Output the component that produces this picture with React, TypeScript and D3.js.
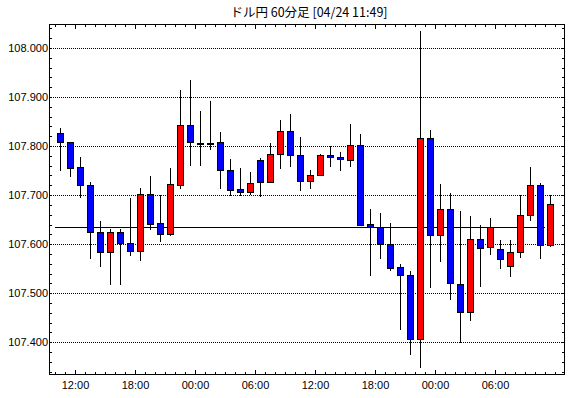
import { useEffect, useRef } from "react";
import * as d3 from "d3";

// 60-minute candles, 04/23 10:00 -> 04/24 11:00
const START = new Date(2019, 3, 23, 10, 0);
const OPEN = [
  107.827, 107.808, 107.757, 107.72, 107.624, 107.584, 107.624, 107.602, 107.585, 107.702,
  107.643, 107.62, 107.72, 107.843, 107.807, 107.807, 107.808, 107.752, 107.712, 107.706,
  107.771, 107.727, 107.784, 107.831, 107.782, 107.729, 107.741, 107.782, 107.778, 107.771,
  107.802, 107.641, 107.635, 107.6, 107.553, 107.537, 107.406, 107.816, 107.618, 107.671,
  107.518, 107.461, 107.61, 107.594, 107.59, 107.555, 107.584, 107.659, 107.72, 107.598,
];
const HIGH = [
  107.837, 107.809, 107.778, 107.727, 107.648, 107.631, 107.631, 107.694, 107.715, 107.739,
  107.701, 107.756, 107.915, 107.935, 107.872, 107.892, 107.829, 107.774, 107.756, 107.748,
  107.776, 107.807, 107.854, 107.866, 107.819, 107.752, 107.784, 107.8, 107.788, 107.846,
  107.825, 107.672, 107.664, 107.643, 107.56, 107.545, 108.035, 107.833, 107.723, 107.705,
  107.668, 107.658, 107.639, 107.654, 107.609, 107.609, 107.7, 107.758, 107.724, 107.7,
];
const LOW = [
  107.75, 107.737, 107.695, 107.569, 107.554, 107.516, 107.516, 107.575, 107.566, 107.629,
  107.605, 107.616, 107.713, 107.76, 107.76, 107.791, 107.713, 107.699, 107.699, 107.701,
  107.697, 107.727, 107.754, 107.758, 107.709, 107.713, 107.738, 107.758, 107.75, 107.758,
  107.636, 107.534, 107.569, 107.546, 107.424, 107.373, 107.347, 107.511, 107.564, 107.486,
  107.398, 107.443, 107.513, 107.577, 107.549, 107.532, 107.571, 107.648, 107.569, 107.595,
];
const CLOSE = [
  107.808, 107.755, 107.72, 107.624, 107.584, 107.624, 107.602, 107.585, 107.702, 107.642,
  107.62, 107.722, 107.843, 107.808, 107.807, 107.807, 107.751, 107.711, 107.706, 107.724,
  107.727, 107.784, 107.831, 107.781, 107.729, 107.741, 107.782, 107.778, 107.773, 107.802,
  107.639, 107.635, 107.6, 107.551, 107.536, 107.406, 107.816, 107.618, 107.671, 107.52,
  107.461, 107.61, 107.592, 107.635, 107.569, 107.584, 107.659, 107.72, 107.598, 107.682,
];
const REF_PRICE = 107.635;
const Y_TICKS = [107.4, 107.5, 107.6, 107.7, 107.8, 107.9, 108.0];
const TITLE = "ドル円 60分足 [04/24 11:49]";

const W = 570;
const H = 398;
const HOUR = 3600 * 1000;

export default function App() {
  const svgRef = useRef<SVGSVGElement>(null);

  useEffect(() => {
    document.body.style.margin = "0";
    if (!svgRef.current) return;
    const svg = d3.select(svgRef.current);
    svg.selectAll("*").remove();

    const left = 49, right = 565, top = 24, bottom = 375;
    const px = (v: number) => Math.round(v) + 0.5;

    const x = d3
      .scaleTime()
      .domain([new Date(+START - 0.6 * HOUR), new Date(+START + 51 * HOUR)])
      .range([left, right]);
    const y = d3.scaleLinear().domain([107.333, 108.049]).range([bottom, top]);

    svg.append("rect").attr("width", W).attr("height", H).attr("fill", "#fff");

    // title
    svg
      .append("text")
      .attr("x", (left + right) / 2 + 2)
      .attr("y", 17)
      .attr("text-anchor", "middle")
      .attr("font-family", "'Noto Sans CJK JP', sans-serif")
      .attr("font-size", "12.5px")
      .attr("fill", "#000")
      .attr("xml:space", "preserve")
      .style("white-space", "pre")
      .text(TITLE);

    const g = svg.append("g").attr("shape-rendering", "crispEdges");

    // dotted grid
    Y_TICKS.forEach((t) => {
      g.append("line")
        .attr("x1", left)
        .attr("x2", right)
        .attr("y1", px(y(t)))
        .attr("y2", px(y(t)))
        .attr("stroke", "#000")
        .attr("stroke-dasharray", "1,1");
    });

    // minor y ticks, both sides
    const yMinor = d3.range(107.34, 108.049, 0.02);
    yMinor.forEach((t) => {
      const yy = px(y(t));
      g.append("line").attr("x1", left).attr("x2", left + 3).attr("y1", yy).attr("y2", yy).attr("stroke", "#000");
      g.append("line").attr("x1", right - 3).attr("x2", right).attr("y1", yy).attr("y2", yy).attr("stroke", "#000");
    });

    // x ticks: hourly minor, 6-hourly major
    const end = new Date(+START + 50 * HOUR);
    const hours = d3.timeHour.range(START, new Date(+end + 1));
    const majors = d3.timeHour.every(6)!.range(START, end);
    const majorSet = new Set(majors.map((d) => +d));
    hours.forEach((d) => {
      const len = majorSet.has(+d) ? 5 : 3;
      const xx = px(x(d));
      g.append("line").attr("x1", xx).attr("x2", xx).attr("y1", top).attr("y2", top + len).attr("stroke", "#000");
      g.append("line").attr("x1", xx).attr("x2", xx).attr("y1", bottom - len).attr("y2", bottom).attr("stroke", "#000");
    });

    const fmt = d3.timeFormat("%H:%M");
    majors.forEach((d) => {
      svg
        .append("text")
        .attr("x", x(d) + 0.5)
        .attr("y", 389)
        .attr("text-anchor", "middle")
        .attr("font-family", "'Liberation Sans', Arial, sans-serif")
        .attr("font-size", "11px")
        .attr("fill", "#000")
        .text(fmt(d));
    });

    Y_TICKS.forEach((t) => {
      svg
        .append("text")
        .attr("x", left - 1)
        .attr("y", y(t) + 4)
        .attr("text-anchor", "end")
        .attr("font-family", "'Liberation Sans', Arial, sans-serif")
        .attr("font-size", "11px")
        .attr("fill", "#000")
        .text(t.toFixed(3));
    });

    // reference price line
    g.append("line")
      .attr("x1", x(START))
      .attr("x2", x(new Date(+START + 49 * HOUR)))
      .attr("y1", px(y(REF_PRICE)))
      .attr("y2", px(y(REF_PRICE)))
      .attr("stroke", "#000");

    // candles
    const candles = OPEN.map((o, i) => ({
      t: new Date(+START + i * HOUR + 30 * 60 * 1000),
      o,
      h: HIGH[i],
      l: LOW[i],
      c: CLOSE[i],
    }));

    candles.forEach((d) => {
      const cx = Math.round(x(d.t));
      g.append("line")
        .attr("x1", cx + 0.5)
        .attr("x2", cx + 0.5)
        .attr("y1", Math.round(y(d.h)))
        .attr("y2", Math.round(y(d.l)))
        .attr("stroke", "#000");
      const y0 = Math.round(y(Math.max(d.o, d.c)));
      const y1 = Math.round(y(Math.min(d.o, d.c)));
      const fill = d.c > d.o ? "#ff0000" : d.c < d.o ? "#0000ff" : "#000";
      g.append("rect")
        .attr("x", cx - 2.5)
        .attr("y", y0 + 0.5)
        .attr("width", 6)
        .attr("height", Math.max(1, y1 - y0))
        .attr("fill", fill)
        .attr("stroke", "#000");
    });

    // frame
    g.append("rect")
      .attr("x", left + 0.5)
      .attr("y", top + 0.5)
      .attr("width", right - left - 1)
      .attr("height", bottom - top - 1)
      .attr("fill", "none")
      .attr("stroke", "#000");
  }, []);

  return <svg ref={svgRef} width={W} height={H} style={{ display: "block" }} />;
}
